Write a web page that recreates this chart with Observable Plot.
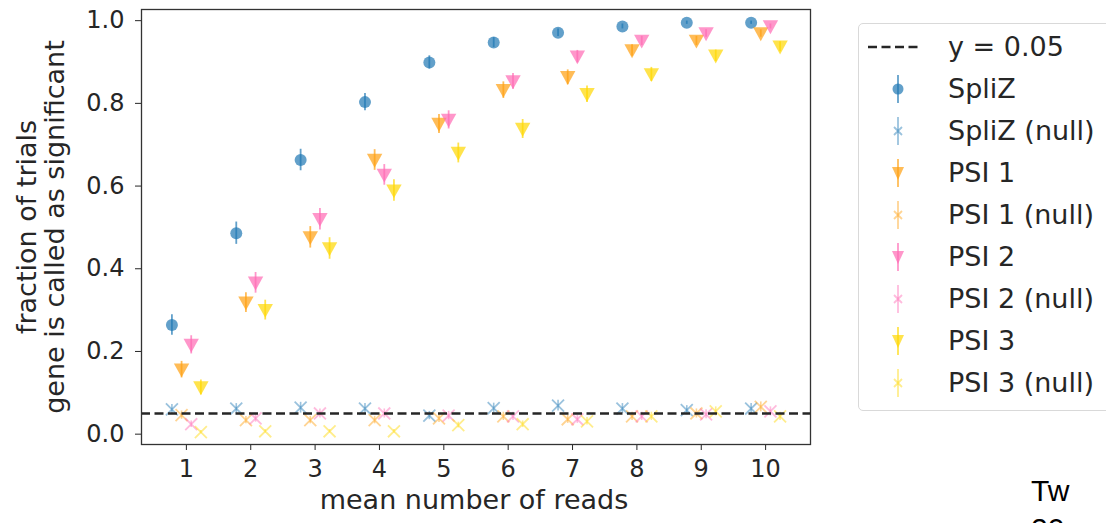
<!DOCTYPE html>
<html><head><meta charset="utf-8">
<script src="https://cdn.jsdelivr.net/npm/d3@7"></script>
<script src="https://cdn.jsdelivr.net/npm/@observablehq/plot@0.6"></script>
<style>
body{margin:0;width:1106px;height:523px;overflow:hidden;background:#fff;font-family:"DejaVu Sans",sans-serif;position:relative;color:#262626}
#chart{position:absolute;left:0;top:0}
.ylab{position:absolute;left:41px;top:227px;width:460px;text-align:center;font-size:27px;line-height:28px;transform:translate(-50%,-50%) rotate(-90deg);white-space:nowrap}
.xlab{position:absolute;left:474px;top:500px;transform:translate(-50%,-50%);font-size:27px;line-height:32px;white-space:nowrap}
#legend{position:absolute;left:858px;top:23px;width:270px;height:386px;border:1px solid #d9d9d9;border-radius:5px;background:#fff}
.row{position:absolute;left:0;height:40px;font-size:27px;line-height:40px;white-space:nowrap}
.row svg{position:absolute;left:8px;top:5px}
.row span{position:absolute;left:89px;top:0}
.cut{position:absolute;font-size:30px;line-height:34px;color:#000;white-space:nowrap;font-family:"Liberation Sans",sans-serif}
</style></head><body>
<div id="chart"></div>
<div class="ylab">fraction of trials<br>gene is called as significant</div>
<div class="xlab">mean number of reads</div>
<div id="legend"></div>
<div class="cut" style="left:1031px;top:474px">Tw</div>
<div class="cut" style="left:1031px;top:512px">20</div>
<script>
const reads = [1,2,3,4,5,6,7,8,9,10];
const seriesNames = ["SpliZ","SpliZ (null)","PSI 1","PSI 1 (null)","PSI 2","PSI 2 (null)","PSI 3","PSI 3 (null)"];
const splizY    = [0.264,0.486,0.663,0.803,0.899,0.947,0.971,0.986,0.995,0.995];
const splizErr  = [0.025,0.027,0.026,0.021,0.016,0.012,0.009,0.006,0.004,0.004];
const splizNull = [0.060,0.062,0.064,0.062,0.045,0.063,0.069,0.062,0.058,0.062];
const splizNullErr = [0.012,0.012,0.013,0.012,0.010,0.012,0.013,0.012,0.011,0.012];
const psi1Y     = [0.156,0.318,0.476,0.663,0.750,0.832,0.863,0.928,0.951,0.969];
const psi1Err   = [0.020,0.024,0.026,0.025,0.023,0.020,0.018,0.014,0.011,0.009];
const psi1Null  = [0.046,0.034,0.034,0.034,0.038,0.043,0.036,0.043,0.050,0.066];
const psi1NullErr = [0.010,0.009,0.009,0.009,0.010,0.010,0.010,0.010,0.011,0.012];
const psi2Y     = [0.216,0.366,0.520,0.627,0.760,0.853,0.913,0.951,0.969,0.986];
const psi2Err   = [0.022,0.025,0.026,0.025,0.022,0.019,0.015,0.011,0.009,0.006];
const psi2Null  = [0.024,0.038,0.050,0.050,0.045,0.043,0.036,0.043,0.048,0.055];
const psi2NullErr = [0.008,0.009,0.011,0.011,0.010,0.010,0.010,0.010,0.011,0.011];
const psi3Y     = [0.113,0.300,0.449,0.589,0.680,0.738,0.822,0.870,0.915,0.937];
const psi3Err   = [0.018,0.024,0.026,0.026,0.024,0.023,0.020,0.017,0.014,0.012];
const psi3Null  = [0.005,0.007,0.007,0.007,0.022,0.024,0.031,0.043,0.055,0.043];
const psi3NullErr = [0.004,0.004,0.004,0.004,0.007,0.008,0.009,0.010,0.011,0.010];
const colors = {spliz:"#1f77b4", psi1:"#ffa010", psi2:"#ff69b4", psi3:"#ffd700"};

const offsets = [-0.225,-0.075,0.075,0.225];
const groups = [
  {name:"SpliZ", key:"spliz", y:splizY, e:splizErr, ny:splizNull, ne:splizNullErr, sym:"circle"},
  {name:"PSI 1", key:"psi1", y:psi1Y, e:psi1Err, ny:psi1Null, ne:psi1NullErr, sym:"tri"},
  {name:"PSI 2", key:"psi2", y:psi2Y, e:psi2Err, ny:psi2Null, ne:psi2NullErr, sym:"tri"},
  {name:"PSI 3", key:"psi3", y:psi3Y, e:psi3Err, ny:psi3Null, ne:psi3NullErr, sym:"tri"}
];
const main = [], nulls = [];
groups.forEach((g,gi)=>{
  reads.forEach((r,i)=>{
    main.push({series:g.name, key:g.key, sym:g.sym, x:r+offsets[gi], y:g.y[i], lo:g.y[i]-g.e[i], hi:g.y[i]+g.e[i]});
    nulls.push({series:g.name+" (null)", key:g.key, x:r+offsets[gi], y:g.ny[i], lo:g.ny[i]-g.ne[i], hi:g.ny[i]+g.ne[i]});
  });
});

const triDown = {draw(ctx, size){ const s = Math.sqrt(size); ctx.moveTo(-s*0.62,-s*0.5); ctx.lineTo(s*0.62,-s*0.5); ctx.lineTo(0,s*0.62); ctx.closePath(); }};

const marks = [];
groups.forEach(g=>{
  const d = nulls.filter(n=>n.key===g.key);
  marks.push(Plot.ruleX(d,{x:"x",y1:"lo",y2:"hi",stroke:colors[g.key],strokeOpacity:0.45,strokeWidth:1.6}));
  marks.push(Plot.dot(d,{x:"x",y:"y",symbol:"times",r:5.5,stroke:colors[g.key],strokeOpacity:0.45,strokeWidth:1.8}));
});
groups.forEach(g=>{
  const d = main.filter(n=>n.key===g.key);
  marks.push(Plot.ruleX(d,{x:"x",y1:"lo",y2:"hi",stroke:colors[g.key],strokeOpacity:0.7,strokeWidth:1.8}));
  marks.push(Plot.dot(d,{x:"x",y:"y",symbol:g.sym==="circle"?"circle":triDown,r:g.sym==="circle"?6:7,fill:colors[g.key],fillOpacity:0.7,stroke:"none"}));
});
marks.push(Plot.ruleY([0.05],{stroke:"#262626",strokeWidth:2.6,strokeDasharray:"9,4.5"}));
marks.push(Plot.frame({stroke:"#333",strokeWidth:1.3}));

const plot = Plot.plot({
  width:1106, height:523,
  marginLeft:141, marginRight:296, marginTop:9, marginBottom:79,
  style:{fontFamily:"DejaVu Sans, sans-serif", fontSize:"24px", color:"#262626", background:"#fff"},
  x:{domain:[0.3025,10.6975], ticks:reads, tickFormat:d=>String(d), tickSize:6, tickPadding:9, label:null},
  y:{domain:[-0.025,1.027], ticks:[0,0.2,0.4,0.6,0.8,1.0], tickFormat:d3.format(".1f"), tickSize:6, tickPadding:11, label:null},
  marks
});
document.getElementById("chart").appendChild(plot);

// legend
const leg = document.getElementById("legend");
function addRow(k, svg, label){
  const div = document.createElement("div");
  div.className="row"; div.style.top=(24 + 42*k - 20 - 1)+"px";
  div.innerHTML = `<svg width="70" height="30">${svg}</svg><span>${label}</span>`;
  leg.appendChild(div);
}
addRow(0, `<line x1="1" x2="53" y1="15" y2="15" stroke="#262626" stroke-width="2.6" stroke-dasharray="9,4.5"/>`, "y = 0.05");
groups.forEach((g,gi)=>{
  const c = colors[g.key];
  const sym = g.sym==="circle" ? `<circle cx="31" cy="15" r="5.5" fill="${c}" fill-opacity="0.7"/>` :
     `<path d="M25,9 L37,9 L31,22 Z" fill="${c}" fill-opacity="0.7"/>`;
  addRow(1+gi*2, `<line x1="31" x2="31" y1="1" y2="29" stroke="${c}" stroke-opacity="0.7" stroke-width="1.8"/>${sym}`, g.name);
  addRow(2+gi*2, `<line x1="31" x2="31" y1="1" y2="29" stroke="${c}" stroke-opacity="0.45" stroke-width="1.8"/><path d="M27,11 L35,19 M35,11 L27,19" stroke="${c}" stroke-opacity="0.45" stroke-width="1.8"/>`, g.name+" (null)");
});
</script>
</body></html>
